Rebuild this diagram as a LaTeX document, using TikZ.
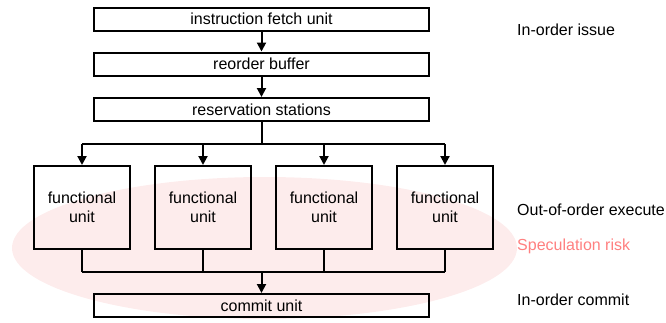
\documentclass[tikz,border=0pt]{standalone}
\usepackage{fontspec}
\setmainfont{Liberation Sans}
\usepackage{xcolor}
\usetikzlibrary{arrows.meta}
\definecolor{riskfill}{RGB}{253,236,236}
\definecolor{risktext}{RGB}{255,128,128}

\begin{document}
\begin{tikzpicture}[x=1pt,y=-1pt]
\tikzstyle{every node}+=[inner sep=0pt, font=\fontsize{16}{19}\selectfont]
\tikzstyle{stage}=[draw=black, line width=2pt, minimum width=335pt, minimum height=23pt]
\tikzstyle{fu}=[draw=black, line width=2pt, minimum width=96pt, minimum height=83pt, align=center]
\tikzstyle{link}=[line width=2pt, -{Triangle[length=9pt,width=9pt]}]
\tikzstyle{wire}=[line width=2pt]
\tikzstyle{side}=[anchor=west]
\useasboundingbox (0,0) rectangle (666,322);
\fill [riskfill] (264.5,248) ellipse [x radius=252.5pt, y radius=71pt];
\node [stage] (fetch) at (261.5,19) {instruction fetch unit};
\node [stage] (rob) at (261.5,64) {reorder buffer};
\node [stage] (rs) at (261.5,109.5) {reservation stations};
\node [fu] (fu1) at (82,207.5) {functional\\unit};
\node [fu] (fu2) at (203,207.5) {functional\\unit};
\node [fu] (fu3) at (324,207.5) {functional\\unit};
\node [fu] (fu4) at (445,207.5) {functional\\unit};
\node [stage] (commit) at (261.5,305.5) {commit unit};
\coordinate (issue) at (261.5,144);
\coordinate (retire) at (261.5,272);
\draw [link] (fetch) -- (rob);
\draw [link] (rob) -- (rs);
\draw [wire] (rs) -- (issue);
\draw [wire] (fu1.north |- issue) -- (fu4.north |- issue);
\draw [wire] (fu1.south |- retire) -- (fu4.south |- retire);
\foreach \u in {fu1,fu2,fu3,fu4} {
  \draw [link] (\u.north |- issue) -- (\u.north);
  \draw [wire] (\u.south) -- (\u.south |- retire);
}
\draw [link] (retire) -- (commit);
\node [side] (lissue) at (517,30) {In-order issue};
\node [side] (lexec) at (517,210) {Out-of-order execute};
\node [side, text=risktext] (lrisk) at (517,246) {Speculation risk};
\node [side] (lcommit) at (517,300) {In-order commit};
\end{tikzpicture}
\end{document}
